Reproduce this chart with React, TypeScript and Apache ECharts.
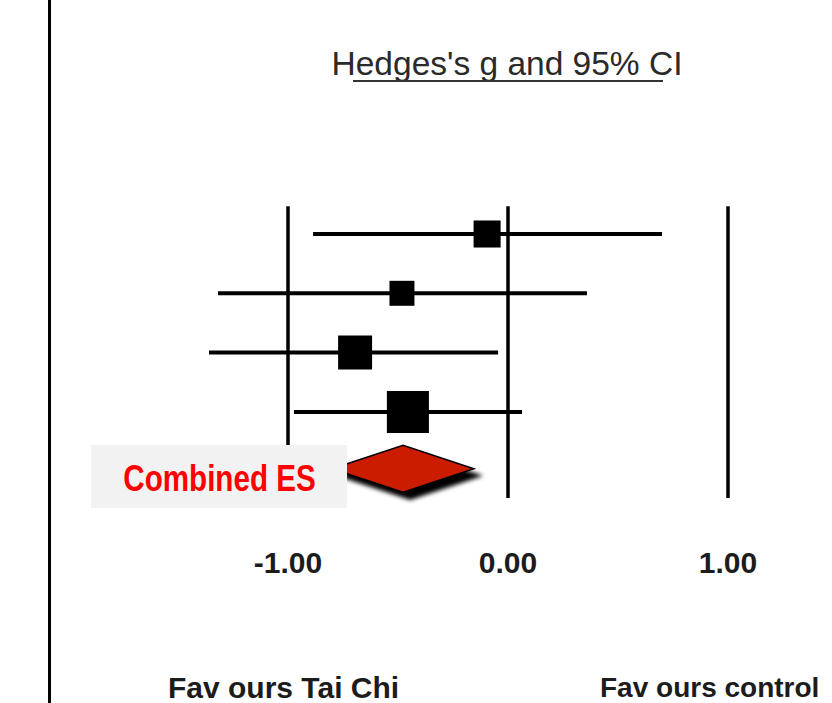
import React, { useEffect, useRef } from "react";
import * as echarts from "echarts";

// ---- data ----
const studies = ["Study 1", "Study 2", "Study 3", "Study 4"];
const hedgesG = [-0.095, -0.482, -0.695, -0.455];
const lowerCI = [-0.886, -1.318, -1.359, -0.973];
const upperCI = [0.7, 0.359, -0.045, 0.064];
const weightsPct = [17.1, 14.6, 27.0, 41.3];

const combinedLabel = "Combined ES";
const combinedG = -0.477;
const combinedLower = -0.8;
const combinedUpper = -0.155;

const tickValues = [-1, 0, 1];
const referenceLines = [-1, 0, 1];
const titleText = "Hedges's g and 95% CI";
const favoursLabels = ["Fav ours Tai Chi", "Fav ours control"];

export default function App() {
  const ref = useRef<HTMLDivElement>(null);

  useEffect(() => {
    document.body.style.margin = "0";
    const chart = echarts.init(ref.current!, null, { renderer: "svg" });

    const rows = studies.map((s, i) => [lowerCI[i], upperCI[i], hedgesG[i], i + 1, weightsPct[i]]);
    const combinedRow = studies.length + 1;

    const option: any = {
      animation: false,
      backgroundColor: "#ffffff",
      grid: { left: 68, right: 16, top: 174.7, bottom: 172.5, containLabel: false, outerBoundsMode: "none" },
      xAxis: {
        type: "value",
        min: -2,
        max: 1.4,
        axisLine: { show: false },
        axisTick: { show: false },
        splitLine: { show: false },
        axisLabel: {
          customValues: tickValues,
          formatter: (v: number) => v.toFixed(2),
          fontSize: 30,
          fontWeight: "bold",
          fontFamily: "'Liberation Sans', Arial, sans-serif",
          color: "#1c1c1c",
          margin: 17,
        },
      },
      yAxis: { type: "value", inverse: true, min: 0, max: 6, show: false },
      series: [
        {
          type: "custom",
          name: "reference",
          data: referenceLines.map((v) => [v, 0]),
          encode: { x: 0, y: 1 },
          z: 1,
          renderItem: (params: any, api: any) => {
            const top = api.coord([api.value(0), 0.53]);
            const bottom = api.coord([api.value(0), 5.45]);
            return {
              type: "line",
              shape: { x1: top[0], y1: top[1], x2: bottom[0], y2: bottom[1] },
              style: { stroke: "#000", lineWidth: 3.5 },
            };
          },
        },
        {
          type: "custom",
          name: "studies",
          data: rows,
          encode: { x: [0, 1, 2], y: 3 },
          z: 3,
          renderItem: (params: any, api: any) => {
            const lo = api.coord([api.value(0), api.value(3)]);
            const hi = api.coord([api.value(1), api.value(3)]);
            const pt = api.coord([api.value(2), api.value(3)]);
            const size = Math.sqrt(api.value(4) / 100) * 65.4;
            return {
              type: "group",
              children: [
                {
                  type: "line",
                  shape: { x1: lo[0], y1: lo[1], x2: hi[0], y2: hi[1] },
                  style: { stroke: "#000", lineWidth: 4 },
                },
                {
                  type: "rect",
                  shape: { x: pt[0] - size / 2, y: pt[1] - size / 2, width: size, height: size },
                  style: { fill: "#000" },
                },
              ],
            };
          },
        },
        {
          type: "custom",
          name: "combined",
          data: [[combinedLower, combinedUpper, combinedG, combinedRow]],
          encode: { x: [0, 1, 2], y: 3 },
          z: 4,
          renderItem: (params: any, api: any) => {
            const lo = api.coord([api.value(0), api.value(3)]);
            const hi = api.coord([api.value(1), api.value(3)]);
            const pt = api.coord([api.value(2), api.value(3)]);
            const h = 23.5;
            const cy = pt[1] - 2.5;
            return {
              type: "polygon",
              shape: {
                points: [
                  [lo[0], cy],
                  [pt[0], cy - h],
                  [hi[0], cy],
                  [pt[0], cy + h],
                ],
              },
              style: {
                fill: "#cc1f00",
                stroke: "#000",
                lineWidth: 1.5,
                shadowColor: "rgba(0,0,0,1)",
                shadowBlur: 4,
                shadowOffsetX: 7,
                shadowOffsetY: 7,
              },
            };
          },
        },
      ],
      graphic: [
        { type: "rect", z: 100, shape: { x: 48, y: 0, width: 3, height: 703 }, style: { fill: "#000" } },
        {
          type: "text",
          z: 100,
          x: 507,
          y: 63.5,
          style: {
            text: titleText,
            fontSize: 33.5,
            fontFamily: "'Liberation Sans', Arial, sans-serif",
            fill: "#2a2a2a",
            align: "center",
            verticalAlign: "middle",
          },
        },
        { type: "line", z: 100, shape: { x1: 353, y1: 81, x2: 663, y2: 81 }, style: { stroke: "#333", lineWidth: 2 } },
        { type: "rect", z: 100, shape: { x: 91, y: 445, width: 256, height: 63 }, style: { fill: "#f2f2f2" } },
        {
          type: "text",
          z: 101,
          x: 219.5,
          y: 478.5,
          scaleX: 0.8,
          style: {
            text: combinedLabel,
            fontSize: 37,
            fontWeight: "bold",
            fontFamily: "'Liberation Sans', Arial, sans-serif",
            fill: "#ff0000",
            align: "center",
            verticalAlign: "middle",
          },
        },
        {
          type: "text",
          z: 100,
          x: 168,
          y: 687,
          style: {
            text: favoursLabels[0],
            fontSize: 30,
            fontWeight: "bold",
            fontFamily: "'Liberation Sans', Arial, sans-serif",
            fill: "#1c1c1c",
            align: "left",
            verticalAlign: "middle",
          },
        },
        {
          type: "text",
          z: 100,
          x: 600,
          y: 687,
          style: {
            text: favoursLabels[1],
            fontSize: 28,
            fontWeight: "bold",
            fontFamily: "'Liberation Sans', Arial, sans-serif",
            fill: "#1c1c1c",
            align: "left",
            verticalAlign: "middle",
          },
        },
      ],
    };

    chart.setOption(option);
    return () => chart.dispose();
  }, []);

  return (
    <div
      ref={ref}
      style={{ position: "absolute", left: 0, top: 0, width: 832, height: 703, overflow: "hidden" }}
    />
  );
}
